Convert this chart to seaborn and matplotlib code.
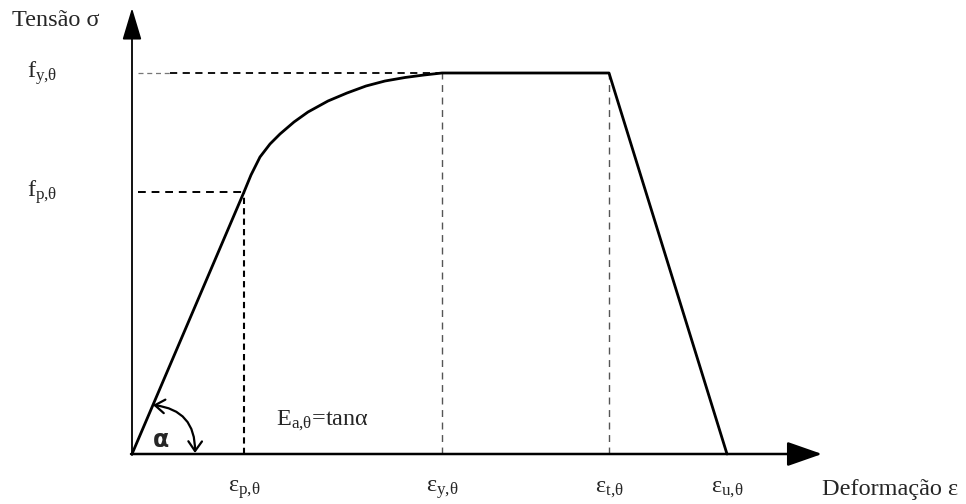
import matplotlib
matplotlib.use("Agg")
import matplotlib.pyplot as plt
import pandas as pd
import seaborn as sns

# ---- data (arbitrary units: strain, stress) ----
eps_p, eps_y, eps_t, eps_u = 112, 310, 477, 595
f_p, f_y = 262, 381
curve_eps = [0, 112, 119, 128, 138, 148, 162, 176, 196, 215, 234, 253, 273, 292, 310, 477, 595]
curve_sig = [0, 262, 279, 297, 310, 320, 332, 342, 353, 361, 368, 373, 376.5, 379, 381, 381, 0]
strain_ticks = [eps_p, eps_y, eps_t, eps_u]
strain_labels = [r"$\mathrm{ε}_{\mathrm{p{,}θ}}$", r"$\mathrm{ε}_{\mathrm{y{,}θ}}$",
                 r"$\mathrm{ε}_{\mathrm{t{,}θ}}$", r"$\mathrm{ε}_{\mathrm{u{,}θ}}$"]
stress_ticks = [f_y, f_p]
stress_labels = [r"$\mathrm{f}_{\mathrm{y{,}θ}}$", r"$\mathrm{f}_{\mathrm{p{,}θ}}$"]
x_title = "Deformação ε"
y_title = "Tensão σ"
modulus_label = r"$\mathrm{E}_{\mathrm{a{,}θ}}$=tanα"

sns.set_style("white")
plt.rcParams['font.family'] = ['Liberation Serif', 'DejaVu Serif']
plt.rcParams['mathtext.fontset'] = 'custom'
plt.rcParams['mathtext.rm'] = 'Liberation Serif'
plt.rcParams['mathtext.it'] = 'Liberation Serif'
plt.rcParams['mathtext.bf'] = 'Liberation Serif:bold'

fig = plt.figure(figsize=(9.66, 5.04), dpi=100)
ax = fig.add_axes([0, 0, 1, 1])
ax.set_xlim(-132, 834)
ax.set_ylim(-50, 454)
ax.axis("off")

df = pd.DataFrame({"eps": curve_eps, "sig": curve_sig})
sns.lineplot(data=df, x="eps", y="sig", sort=False, color="black", lw=2.0, ax=ax)

# guide lines
ax.plot([6, 38], [f_y, f_y], ls=(0, (4, 3)), color="#777777", lw=0.9, zorder=1)
ax.plot([38, eps_y], [f_y, f_y], ls=(0, (4, 3)), color="black", lw=1.3, zorder=1)
ax.plot([6, eps_p], [f_p, f_p], ls=(0, (4, 3)), color="black", lw=1.4, zorder=1)
ax.plot([eps_p, eps_p], [0, f_p], ls=(0, (3, 2)), color="black", lw=1.5, zorder=1)
for e in [eps_y, eps_t]:
    ax.plot([e, e], [0, f_y], ls=(0, (5, 4)), color="#555555", lw=1.0, zorder=1)

# axes with arrows
ax.annotate("", xy=(0, 446), xytext=(0, -1),
            arrowprops=dict(arrowstyle="-|>,head_length=1.1,head_width=0.33",
                            color="black", lw=1.3, mutation_scale=18, shrinkA=0, shrinkB=0))
ax.annotate("", xy=(690, 0), xytext=(-1, 0),
            arrowprops=dict(arrowstyle="-|>,head_length=1.2,head_width=0.42",
                            color="black", lw=1.8, mutation_scale=18, shrinkA=0, shrinkB=0))

# labels
ax.text(-120, 428, y_title, fontsize=17.5, ha="left", va="baseline")
for v, lab in zip(stress_ticks, stress_labels):
    ax.text(-105, v, lab, fontsize=17.5, ha="left", va="center")
for v, lab in zip(strain_ticks, strain_labels):
    ax.text(v, -36, lab, fontsize=17.5, ha="center", va="center")
ax.text(826, -36, x_title, fontsize=17.5, ha="right", va="center")
ax.text(144, 33, modulus_label, fontsize=17.5, ha="left", va="center")

# angle alpha
ax.annotate("", xy=(63, 1), xytext=(21, 49),
            arrowprops=dict(arrowstyle="<->,head_length=0.5,head_width=0.35",
                            connectionstyle="arc3,rad=-0.45", color="black", lw=1.6,
                            mutation_scale=14, shrinkA=0, shrinkB=0))
ax.text(29, 14, "α", fontsize=17, fontweight="bold", family=["DejaVu Sans"],
        ha="center", va="center")

fig.savefig("out.png", dpi=100)
